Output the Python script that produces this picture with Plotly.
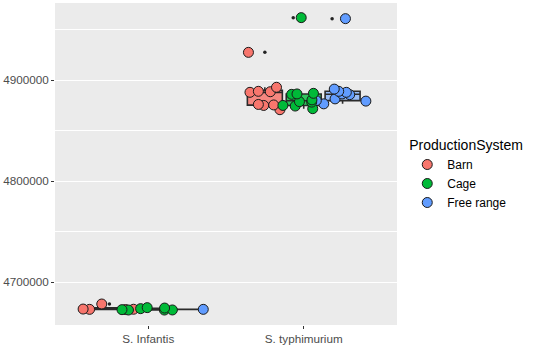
import plotly.graph_objects as go

# ---- data ----
categories = ["S. Infantis", "S. typhimurium"]
systems = ["Barn", "Cage", "Free range"]

infantis_barn = [4672800, 4673000, 4673100, 4673300, 4678300]
infantis_cage = [4672300, 4672350, 4672400, 4672700, 4673700, 4674300, 4674700]
infantis_free = [4673000]

typhi_barn = [4870800, 4875000, 4875500, 4876000, 4888000, 4888600, 4889000, 4893000, 4927600]
typhi_cage = [4871800, 4874400, 4875000, 4878300, 4878800, 4880500, 4886000, 4886400, 4887000, 4962000]
typhi_free = [4876600, 4879300, 4879800, 4881500, 4885700, 4886400, 4888000, 4889000, 4891200, 4961000]

values = {
    "Barn": [infantis_barn, typhi_barn],
    "Cage": [infantis_cage, typhi_cage],
    "Free range": [infantis_free, typhi_free],
}

y_ticks = [4700000, 4800000, 4900000]
y_tick_labels = ["4700000", "4800000", "4900000"]

# ---- style ----
colors = {"Barn": "#F8766D", "Cage": "#00BA38", "Free range": "#619CFF"}
box_fill = {"Barn": "rgba(248,118,109,0.85)", "Cage": "rgba(0,186,56,0.8)", "Free range": "rgba(97,156,255,0.6)"}
outlier_pointpos = {"Barn": 0, "Cage": -0.6, "Free range": -0.6}
dodge = 0.25
box_width = 0.225
jitter_width = 0.4
font_family = "Liberation Sans, Arial, sans-serif"

fig = go.Figure()


def positions(sys_idx, vals_by_cat):
    xs, ys = [], []
    for ci, vals in enumerate(vals_by_cat):
        pos = (ci + 1) + (sys_idx - 1) * dodge
        xs += [pos] * len(vals)
        ys += list(vals)
    return xs, ys


# boxes (with small black outlier dots)
for si, s in enumerate(systems):
    xs, ys = positions(si, values[s])
    fig.add_trace(go.Box(
        x=xs, y=ys, width=box_width,
        fillcolor=box_fill[s],
        line=dict(color="#2b2b2b", width=1.6),
        whiskerwidth=0,
        boxpoints="outliers", pointpos=outlier_pointpos[s], jitter=0,
        marker=dict(size=3.5, color="#222222"),
        showlegend=False, name=s,
    ))

# jittered points
for s in ["Barn", "Free range", "Cage"]:
    si = systems.index(s)
    xs, ys = positions(si, values[s])
    fig.add_trace(go.Box(
        x=xs, y=ys, width=jitter_width,
        fillcolor="rgba(0,0,0,0)",
        line=dict(color="rgba(0,0,0,0)", width=0),
        whiskerwidth=0,
        boxpoints="all", pointpos=0, jitter=1,
        marker=dict(size=10, color=colors[s], line=dict(color="#1a1a1a", width=1)),
        showlegend=False, name=s, hoveron="points",
    ))

# legend entries
for s in systems:
    fig.add_trace(go.Scatter(
        x=[None], y=[None], mode="markers", name=s,
        marker=dict(size=10, color=colors[s], line=dict(color="#1a1a1a", width=1)),
    ))

fig.update_layout(
    width=536, height=348,
    margin=dict(l=54, r=139, t=3, b=20),
    paper_bgcolor="white",
    plot_bgcolor="#EBEBEB",
    font=dict(family=font_family, size=12, color="#4D4D4D"),
    boxmode="overlay",
    legend=dict(
        title=dict(text="ProductionSystem", font=dict(size=14, color="black")),
        font=dict(size=12, color="black"),
        x=1.03, xanchor="left", y=0.6, yanchor="top",
        bgcolor="rgba(0,0,0,0)", tracegroupgap=0,
    ),
    xaxis=dict(
        range=[0.4, 2.6], tickvals=[1, 2], ticktext=categories,
        showgrid=False, zeroline=False, ticks="outside", ticklen=3,
        tickcolor="#333333", tickfont=dict(size=11.7, color="#4D4D4D"),
        showline=False,
    ),
    yaxis=dict(
        range=[4657500, 4976500], tickvals=y_ticks, ticktext=y_tick_labels,
        showgrid=True, gridcolor="white", gridwidth=1.1, zeroline=False,
        ticks="outside", ticklen=3, tickcolor="#333333",
        tickfont=dict(size=11.7, color="#4D4D4D"),
        minor=dict(tickvals=[4650000, 4750000, 4850000, 4950000], showgrid=True,
                   gridcolor="white", gridwidth=0.5, ticks=""),
        showline=False,
    ),
)

fig.write_html("out.html", config={"displayModeBar": False},
               post_script="document.body.style.margin='0';")
